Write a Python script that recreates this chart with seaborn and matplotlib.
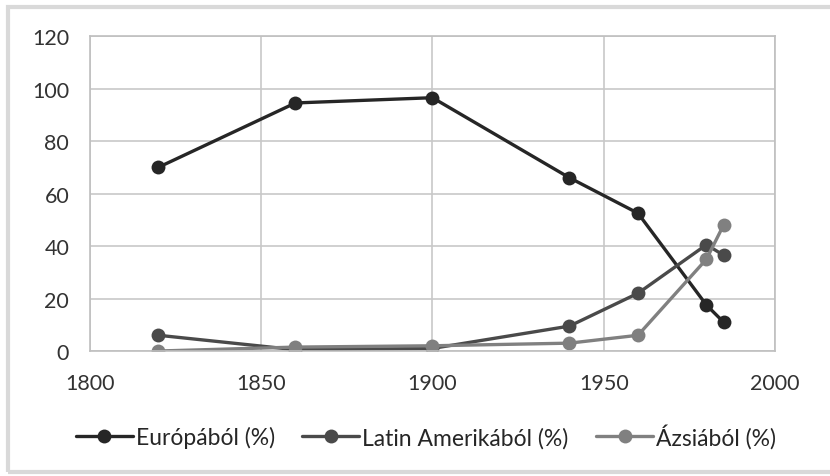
import matplotlib
matplotlib.use("Agg")
import matplotlib.pyplot as plt
import seaborn as sns
import pandas as pd
from matplotlib.patches import Rectangle

years = [1820, 1860, 1900, 1940, 1960, 1980, 1985]
europe = [70, 94.5, 96.5, 66, 52.5, 17.5, 11]
latin = [6, 0.5, 1, 9.5, 22, 40.5, 36.5]
asia = [0, 1.5, 2, 3, 6, 35, 48]
series_names = ["Európából (%)", "Latin Amerikából (%)", "Ázsiából (%)"]
colors = ["#262626", "#4a4a4a", "#808080"]

rows = []
for name, vals in zip(series_names, [europe, latin, asia]):
    for y, v in zip(years, vals):
        rows.append({"year": y, "value": v, "series": name})
df = pd.DataFrame(rows)

sns.set_theme(style="white")
plt.rcParams["font.family"] = ["Lato", "DejaVu Sans"]

fig = plt.figure(figsize=(8.3, 4.77), dpi=100)
ax = fig.add_axes([0.1084, 0.262, 0.8253, 0.6604])

sns.lineplot(data=df, x="year", y="value", hue="series", hue_order=series_names,
             palette=colors, marker="o", markersize=10, markeredgewidth=0,
             linewidth=2.4, ax=ax, legend=True)

ax.set_xlim(1800, 2000)
ax.set_ylim(0, 120)
ax.set_xticks([1800, 1850, 1900, 1950, 2000])
ax.set_yticks([0, 20, 40, 60, 80, 100, 120])
ax.grid(True, color="#c8c8c8", linewidth=1.2)
ax.set_axisbelow(True)
for s in ax.spines.values():
    s.set_color("#bfbfbf")
    s.set_linewidth(1.2)
ax.tick_params(axis="both", labelsize=15.5, colors="#333333", length=0)
ax.tick_params(axis="y", pad=15)
ax.tick_params(axis="x", pad=16)
ax.set_xlabel("")
ax.set_ylabel("")

h, l = ax.get_legend_handles_labels()
ax.legend(h, l, loc="center", ncol=3, frameon=False, fontsize=16.5,
          handlelength=2.5, columnspacing=1.2, handletextpad=0.12)
leg = ax.get_legend()
leg.set_bbox_to_anchor((0.513, 1 - 437 / 477), transform=fig.transFigure)

# outer frame of the chart image
fig.patches.append(Rectangle((8 / 830, 4 / 477), 1.2, 1 - 8 / 477 - 4 / 477,
                             transform=fig.transFigure, fill=False,
                             edgecolor="#d9d9d9", linewidth=3))

fig.savefig("out.png", dpi=100)
